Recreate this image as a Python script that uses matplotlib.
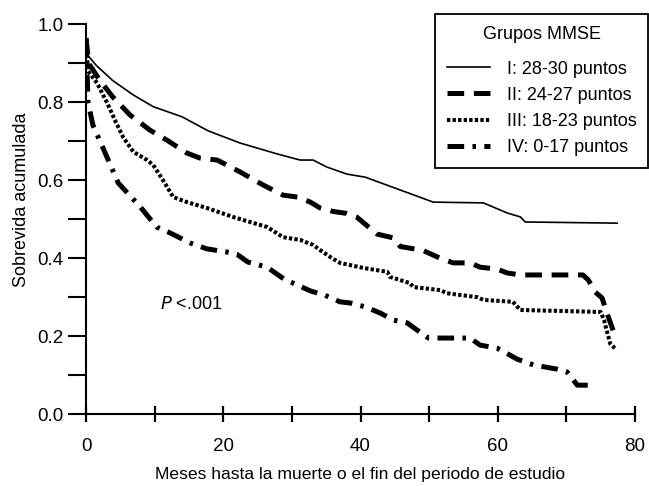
import matplotlib
matplotlib.use("Agg")
import matplotlib.pyplot as plt
from matplotlib.ticker import MultipleLocator

plt.rcParams['font.family'] = ['Liberation Sans', 'DejaVu Sans']
plt.rcParams['lines.scale_dashes'] = False

# Curvas de sobrevida por grupo MMSE
meses_I = [0, 0.3, 1.5, 3.9, 6.9, 9.8, 14.0, 17.8, 22.4, 27.8, 31.2, 33.1, 35.1, 38.0, 40.7,
           50.6, 57.9, 61.4, 63.3, 64.0, 77.4]
sobrev_I = [0.965, 0.92, 0.895, 0.856, 0.819, 0.789, 0.763, 0.727, 0.696, 0.668, 0.652, 0.652,
            0.634, 0.616, 0.608, 0.544, 0.542, 0.516, 0.506, 0.493, 0.490]

meses_II = [0, 0.4, 2.0, 3.9, 6.4, 9.3, 11.8, 14.7, 16.6, 19.1, 20.0, 22.4, 25.8, 28.7, 30.8,
            32.7, 34.1, 36.0, 38.0, 39.5, 42.4, 44.8, 45.8, 49.1, 51.6, 53.5, 56.0, 57.4, 59.9,
            61.4, 63.3, 65.2, 72.4, 73.2, 74.2, 75.2, 75.9, 77.1]
sobrev_II = [0.965, 0.90, 0.857, 0.814, 0.768, 0.729, 0.703, 0.67, 0.657, 0.652, 0.644, 0.622,
             0.588, 0.562, 0.557, 0.544, 0.529, 0.52, 0.515, 0.505, 0.462, 0.452, 0.43, 0.42,
             0.40, 0.388, 0.388, 0.377, 0.372, 0.362, 0.357, 0.357, 0.357, 0.344, 0.313, 0.298,
             0.26, 0.20]

meses_III = [0, 0.3, 1.6, 3.1, 4.2, 5.4, 6.9, 8.9, 9.8, 11.2, 12.7, 14.7, 17.6, 21.4, 26.4,
             28.7, 31.2, 33.1, 34.1, 35.6, 37.0, 39.9, 40.4, 43.9, 44.3, 47.2, 47.7, 51.6, 52.6,
             57.0, 57.9, 62.2, 63.3, 75.0, 75.5, 76.4, 77.3]
sobrev_III = [0.965, 0.88, 0.85, 0.798, 0.755, 0.711, 0.673, 0.652, 0.639, 0.601, 0.557, 0.544,
              0.529, 0.506, 0.48, 0.454, 0.447, 0.434, 0.421, 0.403, 0.388, 0.377, 0.375, 0.365,
              0.352, 0.336, 0.326, 0.318, 0.31, 0.30, 0.293, 0.288, 0.267, 0.262, 0.24, 0.18,
              0.165]

meses_IV = [0, 0.3, 1.0, 2.8, 4.7, 7.9, 10.3, 12.0, 15.2, 17.6, 20.5, 22.0, 23.6, 26.4, 28.8,
            32.7, 34.8, 37.0, 38.5, 40.7, 42.9, 44.8, 46.8, 48.2, 49.9, 56.0, 57.4, 59.9, 61.8,
            62.8, 65.2, 68.7, 70.1, 71.6, 73.5]
sobrev_IV = [0.965, 0.80, 0.742, 0.67, 0.593, 0.532, 0.48, 0.467, 0.439, 0.424, 0.416, 0.41,
             0.39, 0.377, 0.347, 0.316, 0.305, 0.288, 0.285, 0.275, 0.259, 0.241, 0.234, 0.216,
             0.195, 0.195, 0.177, 0.169, 0.151, 0.141, 0.126, 0.115, 0.108, 0.074, 0.074]

etiquetas = ['I: 28-30 puntos', 'II: 24-27 puntos', 'III: 18-23 puntos', 'IV: 0-17 puntos']

fig = plt.figure(figsize=(6.49, 4.86), dpi=100)
ax = fig.add_axes([86 / 649, 72 / 486, 549 / 649, 389.5 / 486])

l1, = ax.plot(meses_I, sobrev_I, color='black', lw=1.2, solid_joinstyle='round')
l2, = ax.plot(meses_II, sobrev_II, color='black', lw=3.6, linestyle=(0, (12, 7)))
l3, = ax.plot(meses_III, sobrev_III, color='black', lw=2.9, linestyle=(0, (2.4, 1.6)))
l4, = ax.plot(meses_IV, sobrev_IV, color='black', lw=3.6, linestyle=(0, (12, 6, 2.5, 6)))

ax.set_xlim(0, 80)
ax.set_ylim(0, 1.0)
for s in ['top', 'right']:
    ax.spines[s].set_visible(False)
for s in ['left', 'bottom']:
    ax.spines[s].set_linewidth(1.5)

ax.xaxis.set_major_locator(MultipleLocator(20))
ax.xaxis.set_minor_locator(MultipleLocator(10))
ax.yaxis.set_major_locator(MultipleLocator(0.2))
ax.yaxis.set_minor_locator(MultipleLocator(0.1))
ax.yaxis.set_major_formatter(lambda v, p: f'{v:.1f}')

ax.tick_params(axis='x', which='both', direction='inout', length=12, width=1.6)
ax.tick_params(axis='x', which='major', labelsize=13.5, pad=11)
ax.tick_params(axis='y', which='both', direction='out', length=13, width=1.5)
ax.tick_params(axis='y', which='major', labelsize=13.5, pad=3)

ax.set_xlabel('Meses hasta la muerte o el fin del periodo de estudio', fontsize=12.6, labelpad=9)
ax.set_ylabel('Sobrevida acumulada', fontsize=13)
ax.yaxis.set_label_coords(-0.102, 0.55)

ax.text(10.8, 0.282, '$P$ <.001', fontsize=13, va='center', ha='left')

leg = ax.legend([l1, l2, l3, l4], etiquetas, title='Grupos MMSE', loc='upper right',
                bbox_to_anchor=(648 / 649, 1 - 14 / 486), bbox_transform=fig.transFigure,
                borderaxespad=0, fancybox=False, edgecolor='black', framealpha=1, fontsize=13,
                title_fontsize=13, handlelength=2.4, handletextpad=0.9, labelspacing=0.5,
                borderpad=0.65)
leg.get_frame().set_linewidth(1.3)
leg._legend_box.sep = 13  # un poco mas de espacio bajo el titulo

fig.savefig('out.png', dpi=100)
